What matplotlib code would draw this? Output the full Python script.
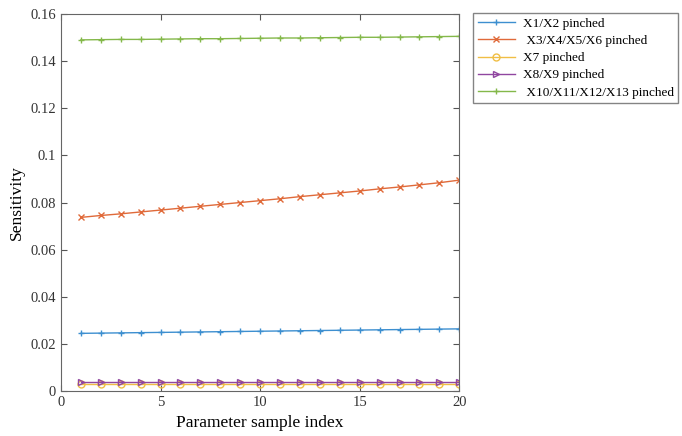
import numpy as np
import matplotlib.pyplot as plt

plt.rcParams['font.family'] = ['Liberation Serif', 'DejaVu Serif']

# Sensitivity of each pinched group over the parameter samples
idx = list(range(1, 21))
s_x1_x2 = [0.0245, 0.0246, 0.0247, 0.0248, 0.0249, 0.0250, 0.0251, 0.0252, 0.0253, 0.0254,
           0.0255, 0.0256, 0.0257, 0.0258, 0.0259, 0.0260, 0.0261, 0.0262, 0.0263, 0.0264]
s_x3_x6 = [0.0737, 0.0745, 0.0752, 0.0760, 0.0768, 0.0776, 0.0784, 0.0792, 0.0800, 0.0808,
           0.0816, 0.0825, 0.0833, 0.0841, 0.0849, 0.0858, 0.0866, 0.0875, 0.0884, 0.0895]
s_x7 = [0.0030] * 20
s_x8_x9 = [0.0040] * 20
s_x10_x13 = [0.1490, 0.1491, 0.1492, 0.1492, 0.1493, 0.1494, 0.1495, 0.1495, 0.1496, 0.1497,
             0.1498, 0.1498, 0.1499, 0.1500, 0.1501, 0.1501, 0.1502, 0.1503, 0.1504, 0.1505]

labels = ['X1/X2 pinched', ' X3/X4/X5/X6 pinched', 'X7 pinched', 'X8/X9 pinched',
          ' X10/X11/X12/X13 pinched']
series = [s_x1_x2, s_x3_x6, s_x7, s_x8_x9, s_x10_x13]
colors = ['#3d8fd0', '#e06a3a', '#f0be45', '#9046a0', '#84b84a']
markers = ['+', 'x', 'o', '>', '+']

fig = plt.figure(figsize=(6.82, 4.36), dpi=100)
ax = fig.add_axes([0.0894, 0.103, 0.584, 0.865])

for ys, lab, c, m in zip(series, labels, colors, markers):
    ax.plot(idx, ys, color=c, marker=m, markersize=5, markerfacecolor='none',
            markeredgewidth=1.0, linewidth=1.0, label=lab)

ax.set_xlim(0, 20)
ax.set_ylim(0, 0.16)
ax.set_xticks([0, 5, 10, 15, 20])
ax.set_yticks(np.arange(0, 0.161, 0.02))
ax.set_yticklabels(['0', '0.02', '0.04', '0.06', '0.08', '0.1', '0.12', '0.14', '0.16'])
ax.tick_params(direction='in', top=True, right=True, labelsize=10.5, length=4,
               color='#555555', labelcolor='#333333')
for sp in ax.spines.values():
    sp.set_color('#666666')
ax.set_xlabel('Parameter sample index', fontsize=12.5)
ax.set_ylabel('Sensitivity', fontsize=12.5)

ax.legend(loc='upper left', bbox_to_anchor=(1.035, 1.003), fontsize=9.5, frameon=True,
          fancybox=False, edgecolor='#666666', handlelength=2.8, borderaxespad=0,
          labelspacing=0.38, handletextpad=0.6, borderpad=0.35)

fig.savefig('out.png', dpi=100)
